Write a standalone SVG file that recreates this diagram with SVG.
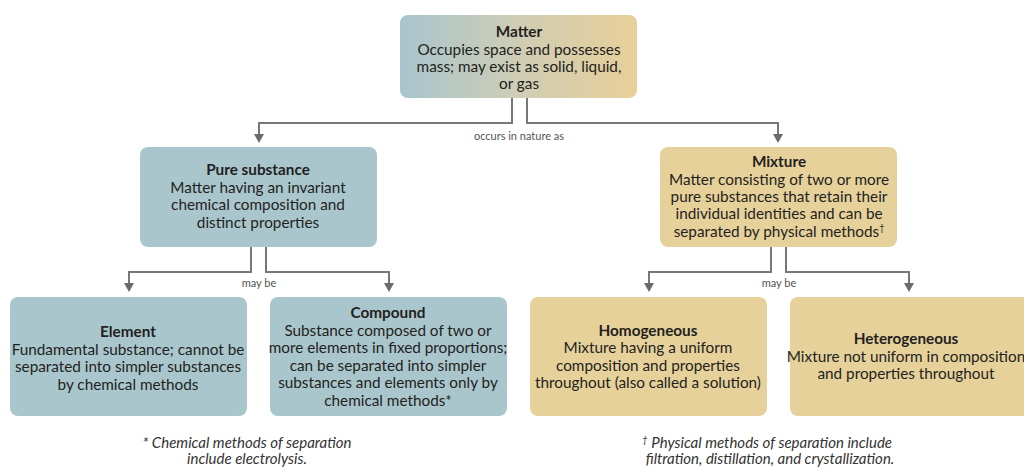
<svg xmlns="http://www.w3.org/2000/svg" width="1024" height="470" viewBox="0 0 1024 470">
<defs>
<linearGradient id="gm" x1="0" y1="0" x2="1" y2="0">
<stop offset="0" stop-color="#a8c5cd"/>
<stop offset="0.5" stop-color="#cfcdb5"/>
<stop offset="1" stop-color="#e8cf98"/>
</linearGradient>
<style>
.blue{fill:#aac6cd}
.tan{fill:#e7d19b}
text{font-family:Lato,"Liberation Sans",sans-serif;fill:#231f20;text-anchor:middle}
.t{font-size:15.3px;font-weight:bold}
.b{font-size:15.3px}
.lbl{font-size:11px;fill:#555}
.fn{font-size:15px;font-style:italic;fill:#333}
.c{fill:none;stroke:#777;stroke-width:2}
.ah{fill:#6b6b6b}
</style>
</defs>
<rect width="1024" height="470" fill="#ffffff"/>
<g id="connectors">
<path class="c" d="M512,98 V123 H259 V134"/>
<path class="c" d="M527,98 V123 H778 V134"/>
<polygon class="ah" points="254,134 264,134 259,143"/>
<polygon class="ah" points="773,134 783,134 778,143"/>
<text class="lbl" x="519" y="140">occurs in nature as</text>
<path class="c" d="M251,247 V272 H129 V283"/>
<path class="c" d="M266,247 V272 H389 V283"/>
<polygon class="ah" points="124,283 134,283 129,292"/>
<polygon class="ah" points="384,283 394,283 389,292"/>
<text class="lbl" x="259" y="287">may be</text>
<path class="c" d="M771,247 V272 H649 V283"/>
<path class="c" d="M786,247 V272 H909 V283"/>
<polygon class="ah" points="644,283 654,283 649,292"/>
<polygon class="ah" points="904,283 914,283 909,292"/>
<text class="lbl" x="779" y="287">may be</text>
</g>
<g id="matter">
<rect x="400" y="15" width="237" height="83" rx="8" fill="url(#gm)"/>
<text class="t" x="519" y="37">Matter</text>
<text class="b" x="519" y="55">Occupies space and possesses</text>
<text class="b" x="519" y="72">mass; may exist as solid, liquid,</text>
<text class="b" x="519" y="89">or gas</text>
</g>
<g id="pure">
<rect class="blue" x="140" y="147" width="237" height="100" rx="8"/>
<text class="t" x="258" y="175">Pure substance</text>
<text class="b" x="258" y="193">Matter having an invariant</text>
<text class="b" x="258" y="210">chemical composition and</text>
<text class="b" x="258" y="228">distinct properties</text>
</g>
<g id="mixture">
<rect class="tan" x="660" y="147" width="237" height="100" rx="8"/>
<text class="t" x="779" y="167">Mixture</text>
<text class="b" x="779" y="185">Matter consisting of two or more</text>
<text class="b" x="779" y="202">pure substances that retain their</text>
<text class="b" x="779" y="219">individual identities and can be</text>
<text class="b" x="779" y="237">separated by physical methods<tspan font-size="9" dy="-6">†</tspan></text>
</g>
<g id="element">
<rect class="blue" x="10" y="297" width="237" height="119" rx="8"/>
<text class="t" x="128" y="337">Element</text>
<text class="b" x="128" y="355">Fundamental substance; cannot be</text>
<text class="b" x="128" y="372">separated into simpler substances</text>
<text class="b" x="128" y="390">by chemical methods</text>
</g>
<g id="compound">
<rect class="blue" x="270" y="297" width="237" height="119" rx="8"/>
<text class="t" x="388" y="318">Compound</text>
<text class="b" x="388" y="336">Substance composed of two or</text>
<text class="b" x="388" y="353">more elements in fixed proportions;</text>
<text class="b" x="388" y="371">can be separated into simpler</text>
<text class="b" x="388" y="388">substances and elements only by</text>
<text class="b" x="388" y="406">chemical methods*</text>
</g>
<g id="homogeneous">
<rect class="tan" x="530" y="297" width="237" height="119" rx="8"/>
<text class="t" x="648" y="336">Homogeneous</text>
<text class="b" x="648" y="353">Mixture having a uniform</text>
<text class="b" x="648" y="371">composition and properties</text>
<text class="b" x="648" y="388">throughout (also called a solution)</text>
</g>
<g id="heterogeneous">
<rect class="tan" x="790" y="297" width="240" height="119" rx="8"/>
<text class="t" x="906" y="344">Heterogeneous</text>
<text class="b" x="906" y="362">Mixture not uniform in composition</text>
<text class="b" x="906" y="379">and properties throughout</text>
</g>
<g id="footnotes">
<text class="fn" x="247" y="448">* Chemical methods of separation</text>
<text class="fn" x="247" y="464">include electrolysis.</text>
<text class="fn" x="767" y="448"><tspan font-size="10" dy="-5">†</tspan><tspan dy="5"> Physical methods of separation include</tspan></text>
<text class="fn" x="770" y="464">filtration, distillation, and crystallization.</text>
</g>
</svg>
